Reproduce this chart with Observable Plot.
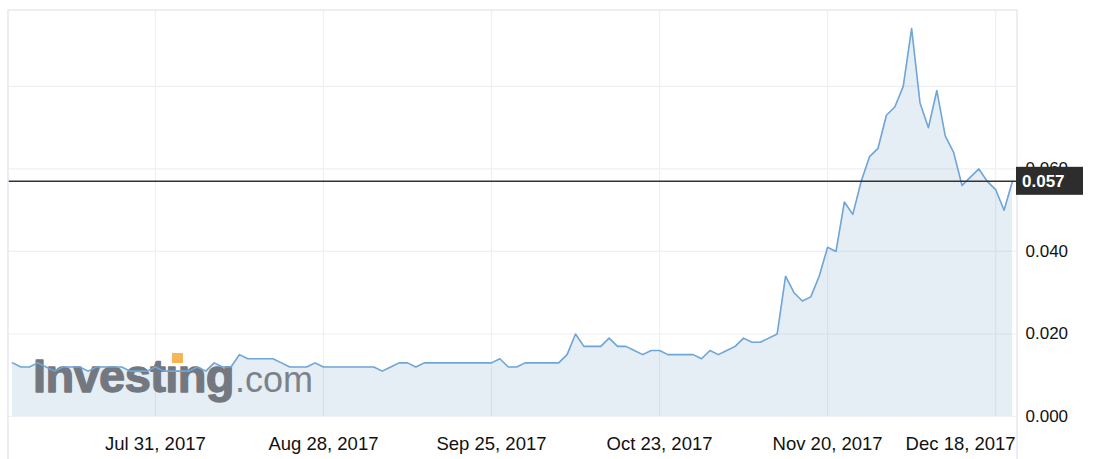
<!DOCTYPE html>
<html>
<head>
<meta charset="utf-8">
<script src="https://cdn.jsdelivr.net/npm/d3@7"></script>
<script src="https://cdn.jsdelivr.net/npm/@observablehq/plot@0.6"></script>
<style>
html, body { margin: 0; padding: 0; background: #fff; }
#chart { width: 1094px; height: 459px; overflow: hidden; }
</style>
</head>
<body>
<div id="chart"></div>
<script>
// ---- data ----
const startDate = "2017-07-06"; // first trading day shown
const prices = [
  0.013, 0.012, 0.012, 0.013, 0.012, 0.011, 0.012, 0.012, 0.012, 0.011,
  0.012, 0.012, 0.012, 0.012, 0.011, 0.011, 0.011, 0.012, 0.011, 0.011,
  0.011, 0.011, 0.012, 0.011, 0.013, 0.012, 0.012, 0.015, 0.014, 0.014,
  0.014, 0.014, 0.013, 0.012, 0.012, 0.012, 0.013, 0.012, 0.012, 0.012,
  0.012, 0.012, 0.012, 0.012, 0.011, 0.012, 0.013, 0.013, 0.012, 0.013,
  0.013, 0.013, 0.013, 0.013, 0.013, 0.013, 0.013, 0.013, 0.014, 0.012,
  0.012, 0.013, 0.013, 0.013, 0.013, 0.013, 0.015, 0.020, 0.017, 0.017,
  0.017, 0.019, 0.017, 0.017, 0.016, 0.015, 0.016, 0.016, 0.015, 0.015,
  0.015, 0.015, 0.014, 0.016, 0.015, 0.016, 0.017, 0.019, 0.018, 0.018,
  0.019, 0.020, 0.034, 0.030, 0.028, 0.029, 0.034, 0.041, 0.040, 0.052,
  0.049, 0.057, 0.063, 0.065, 0.073, 0.075, 0.080, 0.094, 0.076, 0.070,
  0.079, 0.068, 0.064, 0.056, 0.058, 0.060, 0.057, 0.055, 0.050, 0.057
];
const tickDates = ["2017-07-31", "2017-08-28", "2017-09-25", "2017-10-23", "2017-11-20", "2017-12-18"];
const tickLabels = ["Jul 31, 2017", "Aug 28, 2017", "Sep 25, 2017", "Oct 23, 2017", "Nov 20, 2017", "Dec 18, 2017"];
const yTicks = [0, 0.02, 0.04, 0.06];
const yGrid = [0, 0.02, 0.04, 0.06, 0.08];
const yMax = 0.0984;
const lastPrice = prices[prices.length - 1];
const watermarkMain = "Investıng";
const watermarkSuffix = ".com";

// ---- build table of trading days (weekdays) ----
const fmt = d3.timeFormat("%Y-%m-%d");
const dates = [];
{
  const d = new Date(startDate + "T00:00:00");
  while (dates.length < prices.length) {
    const wd = d.getDay();
    if (wd !== 0 && wd !== 6) dates.push(new Date(d));
    d.setDate(d.getDate() + 1);
  }
}
const data = prices.map((v, i) => ({ i, date: dates[i], v }));
const tickIdx = tickDates.map(t => dates.findIndex(dd => fmt(dd) === t));
const labelOf = t => tickLabels[tickIdx.indexOf(t)];

const font = "'Liberation Sans', Arial, Helvetica, sans-serif";

const plot = Plot.plot({
  width: 1094,
  height: 459,
  marginLeft: 8,
  marginRight: 77,
  marginTop: 10,
  marginBottom: 43,
  style: { fontFamily: font, background: "#fff", color: "#111", overflow: "visible" },
  x: { type: "linear", domain: [-0.48, prices.length - 0.4] },
  y: { domain: [0, yMax] },
  marks: [
    Plot.ruleX(tickIdx, { stroke: "#eff0f5", strokeWidth: 1.2 }),
    Plot.ruleY(yGrid, { stroke: "#eff0f5", strokeWidth: 1.2 }),
    Plot.areaY(data, { x: "i", y: "v", fill: "#5b8fbf", fillOpacity: 0.16 }),
    Plot.lineY(data, { x: "i", y: "v", stroke: "#6fa5d7", strokeWidth: 1.6 }),
    Plot.ruleY([lastPrice], { stroke: "#333", strokeWidth: 1.5 }),
    Plot.axisY(yTicks, {
      anchor: "right", tickSize: 0, tickPadding: 8, label: null,
      tickFormat: d3.format(".3f"), fontSize: 17, fill: "#111"
    }),
    Plot.axisX(tickIdx.slice(0, -1), {
      anchor: "bottom", tickSize: 0, tickPadding: 20, label: null,
      tickFormat: labelOf, fontSize: 18.5, fill: "#111"
    }),
    Plot.axisX(tickIdx.slice(-1), {
      anchor: "bottom", tickSize: 0, tickPadding: 20, label: null,
      tickFormat: labelOf, fontSize: 18.5, fill: "#111", textAnchor: "end", dx: 20
    })
  ]
});

document.getElementById("chart").appendChild(plot);

// ---- decorations placed with the plot's own scales ----
const svg = d3.select(plot);
const xs = plot.scale("x"), ys = plot.scale("y");
const [xL, xR] = xs.range;
const [yB, yT] = ys.range;

// chart frame (left, top, right borders)
svg.append("path")
  .attr("d", `M${xL},459V${yT}H${xR}V459`)
  .attr("fill", "none")
  .attr("stroke", "#e6e8f2")
  .attr("stroke-width", 1.5);

// watermark, under the price line
const lineNode = svg.select('g[aria-label="line"]').node();
const wm = svg.insert("g", () => lineNode).attr("aria-label", "watermark");
const wx = xL + 25, wy = yB - 24;
const wt = wm.append("text")
  .attr("x", wx).attr("y", wy)
  .attr("text-anchor", "start")
  .attr("font-family", font)
  .attr("fill", "#737880");
wt.append("tspan")
  .attr("font-size", 47).attr("font-weight", "bold").attr("letter-spacing", "-0.6")
  .attr("stroke", "#737880").attr("stroke-width", 1.3).attr("stroke-linejoin", "round")
  .text(watermarkMain);
wt.append("tspan").attr("font-size", 36).attr("fill", "#7d8289").attr("dx", 1).text(watermarkSuffix);
wm.append("rect")
  .attr("x", wx + 139).attr("y", wy - 39)
  .attr("width", 11).attr("height", 10)
  .attr("fill", "#f6b653");

// last-price label box
const py = ys.apply(lastPrice);
const lab = svg.append("g").attr("aria-label", "last price");
lab.append("rect")
  .attr("x", xR - 1).attr("y", py - 14)
  .attr("width", 67).attr("height", 28)
  .attr("fill", "#2d2d2d");
lab.append("text")
  .attr("x", xR + 5).attr("y", py)
  .attr("dy", "0.36em")
  .attr("text-anchor", "start")
  .attr("font-family", font)
  .attr("font-weight", "bold")
  .attr("font-size", 17)
  .attr("fill", "#fff")
  .text(d3.format(".3f")(lastPrice));
</script>
</body>
</html>
